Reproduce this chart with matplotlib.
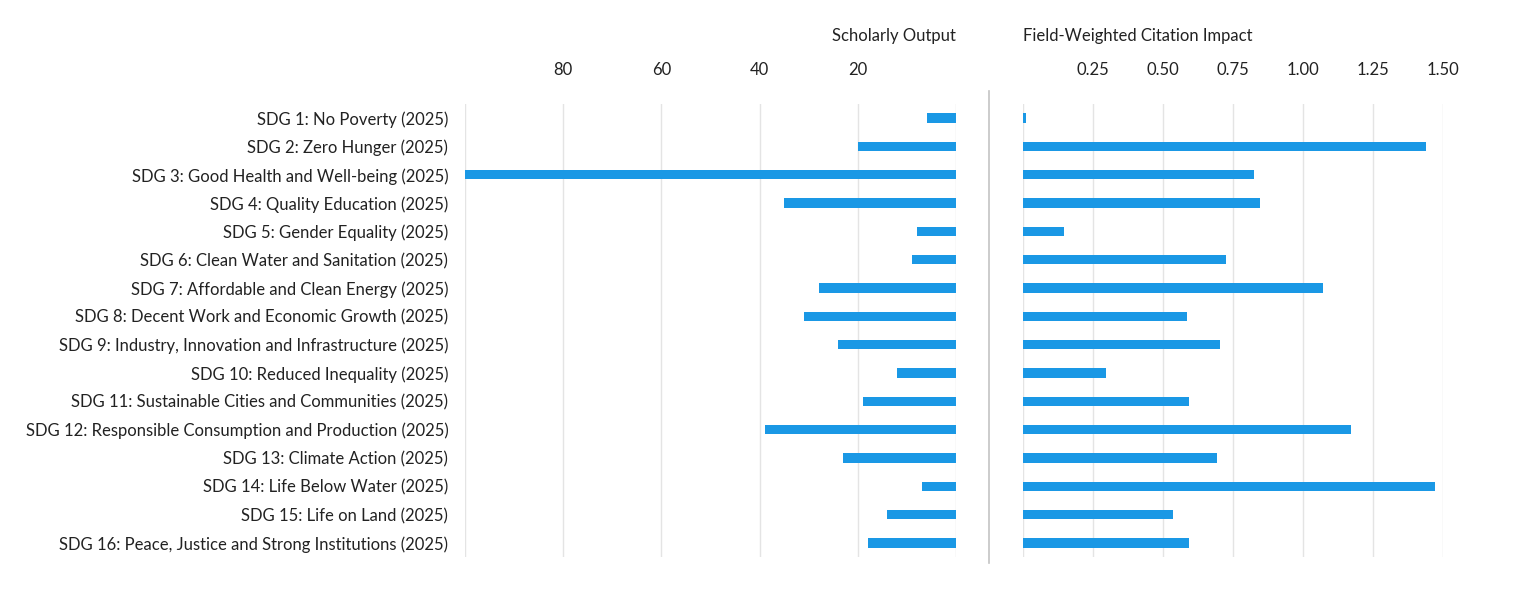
import matplotlib
matplotlib.use("Agg")
import matplotlib.pyplot as plt
from matplotlib.lines import Line2D

# values
sdgs = [
    "SDG 1: No Poverty (2025)",
    "SDG 2: Zero Hunger (2025)",
    "SDG 3: Good Health and Well-being (2025)",
    "SDG 4: Quality Education (2025)",
    "SDG 5: Gender Equality (2025)",
    "SDG 6: Clean Water and Sanitation (2025)",
    "SDG 7: Affordable and Clean Energy (2025)",
    "SDG 8: Decent Work and Economic Growth (2025)",
    "SDG 9: Industry, Innovation and Infrastructure (2025)",
    "SDG 10: Reduced Inequality (2025)",
    "SDG 11: Sustainable Cities and Communities (2025)",
    "SDG 12: Responsible Consumption and Production (2025)",
    "SDG 13: Climate Action (2025)",
    "SDG 14: Life Below Water (2025)",
    "SDG 15: Life on Land (2025)",
    "SDG 16: Peace, Justice and Strong Institutions (2025)",
]
scholarly_output = [6, 20, 100, 35, 8, 9, 28, 31, 24, 12, 19, 39, 23, 7, 14, 18]
fwci = [0.01, 1.44, 0.825, 0.845, 0.145, 0.725, 1.072, 0.586, 0.705, 0.298,
        0.594, 1.173, 0.693, 1.472, 0.537, 0.594]

so_ticks = [0, 20, 40, 60, 80, 100]
so_ticklabels = ["", "20", "40", "60", "80", ""]
fw_ticks = [0, 0.25, 0.5, 0.75, 1.0, 1.25, 1.5]
fw_ticklabels = ["", "0.25", "0.50", "0.75", "1.00", "1.25", "1.50"]

BLUE = "#1a98e5"
GRID = "#e4e4e4"
TEXT = "#222222"
W, H = 1514, 596

plt.rcParams["font.family"] = ["Lato", "DejaVu Sans"]
plt.rcParams["font.size"] = 12

fig = plt.figure(figsize=(W / 100, H / 100), dpi=100)

def px_axes(x0, x1, y0, y1):
    return fig.add_axes([x0 / W, 1 - y1 / H, (x1 - x0) / W, (y1 - y0) / H])

ax_l = px_axes(465, 956, 104, 557)
ax_r = px_axes(1023, 1443, 104, 557)

ypos = list(range(len(sdgs)))

for ax, vals, ticks, labels, lim in [
    (ax_l, scholarly_output, so_ticks, so_ticklabels, (100, 0)),
    (ax_r, fwci, fw_ticks, fw_ticklabels, (0, 1.5)),
]:
    ax.barh(ypos, vals, height=0.33, color=BLUE, zorder=3)
    ax.set_xlim(*lim)
    ax.set_ylim(len(sdgs) - 0.5, -0.5)
    ax.set_xticks(ticks)
    ax.set_xticklabels(labels, color=TEXT)
    ax.xaxis.tick_top()
    ax.tick_params(axis="x", length=0, pad=19)
    ax.grid(axis="x", color=GRID, linewidth=1, zorder=0)
    ax.set_axisbelow(True)
    for s in ax.spines.values():
        s.set_visible(False)

ax_l.set_yticks(ypos)
ax_l.set_yticklabels(sdgs, color=TEXT)
ax_l.tick_params(axis="y", length=0, pad=12)
ax_r.set_yticks([])

fig.text(956 / W, 1 - 36 / H, "Scholarly Output", ha="right", va="center", color=TEXT)
fig.text(1023 / W, 1 - 36 / H, "Field-Weighted Citation Impact", ha="left", va="center", color=TEXT)

fig.add_artist(Line2D([989 / W, 989 / W], [1 - 91 / H, 1 - 563 / H],
                      transform=fig.transFigure, color="#c4c4c4", linewidth=1.2))

fig.savefig("out.png", dpi=100, facecolor="white")
